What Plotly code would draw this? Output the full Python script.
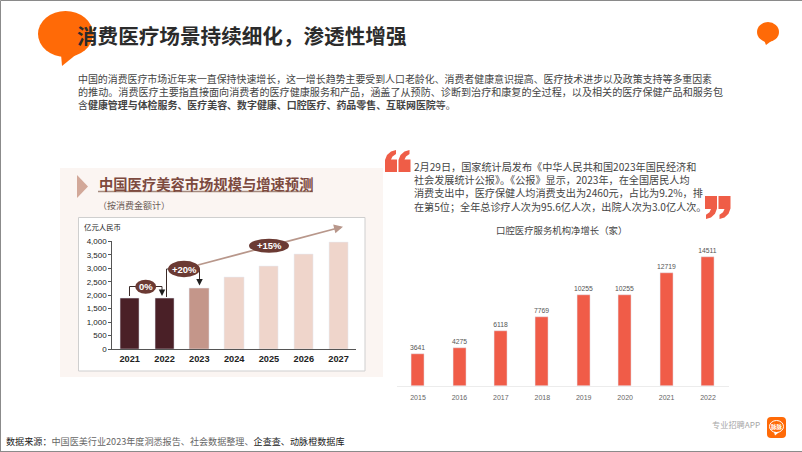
import plotly.graph_objects as go

# ---- data ----
beauty_years = ["2021", "2022", "2023", "2024", "2025", "2026", "2027"]
beauty_values = [1880, 1880, 2255, 2660, 3085, 3520, 3950]
beauty_colors = ["#4a2027", "#4a2027", "#c4968a", "#efd5cb", "#efd5cb", "#efd5cb", "#efd5cb"]
beauty_ticks = [0, 500, 1000, 1500, 2000, 2500, 3000, 3500, 4000]

dental_years = ["2015", "2016", "2017", "2018", "2019", "2020", "2021", "2022"]
dental_values = [3641, 4275, 6118, 7769, 10255, 10255, 12719, 14511]


def cjk(s):
    """Use full-width CJK punctuation, as the reference does."""
    return (s.replace(",", "\uff0c").replace(";", "\uff1b").replace(":", "\uff1a")
            .replace("(", "\uff08").replace(")", "\uff09"))


title_text = cjk("消费医疗场景持续细化,渗透性增强")
body_lines = [
    '<span style="font-size:9.92px">' + cjk("中国的消费医疗市场近年来一直保持快速增长,这一增长趋势主要受到人口老龄化、消费者健康意识提高、医疗技术进步以及政策支持等多重因素") + "</span>",
    '<span style="font-size:10.09px">' + cjk("的推动。消费医疗主要指直接面向消费者的医疗健康服务和产品,涵盖了从预防、诊断到治疗和康复的全过程,以及相关的医疗保健产品和服务包") + "</span>",
    "含<b>健康管理与体检服务、医疗美容、数字健康、口腔医疗、药品零售、互联网医院</b>等。",
]
quote_lines = [
    cjk("2月29日,国家统计局发布《中华人民共和国2023年国民经济和"),
    cjk("社会发展统计公报》。《公报》显示,2023年,在全国居民人均"),
    cjk("消费支出中,医疗保健人均消费支出为2460元,占比为9.2%,排"),
    cjk("在第5位;全年总诊疗人次为95.6亿人次,出院人次为3.0亿人次。"),
]

W, H = 802, 452
FONT = "Noto Sans CJK SC"
LATIN = "Liberation Sans, Noto Sans CJK SC"
fx = lambda x: x / W
fy = lambda y: 1 - y / H

fig = go.Figure()
fig.add_bar(x=beauty_years, y=beauty_values, marker_color=beauty_colors, width=0.555,
            xaxis="x", yaxis="y", hoverinfo="skip")
fig.add_bar(x=dental_years, y=dental_values, marker_color="#f05c48", width=0.314,
            text=[str(v) for v in dental_values], textposition="outside", cliponaxis=False,
            constraintext="none", textfont=dict(size=6.8, color="#555555", family=LATIN),
            xaxis="x2", yaxis="y2", hoverinfo="skip")

shapes = []


def rect(x0, y0, x1, y1, fill, line=None, lw=1):
    shapes.append(dict(type="rect", xref="paper", yref="paper", x0=fx(x0), x1=fx(x1), y0=fy(y0), y1=fy(y1),
                       fillcolor=fill, line=dict(color=line or fill, width=lw if line else 0), layer="below"))


def poly(points, fill=None, line=None, lw=1, close=True, layer="below"):
    d = "M" + " L".join(f"{fx(x):.5f},{fy(y):.5f}" for x, y in points) + (" Z" if close else "")
    shapes.append(dict(type="path", xref="paper", yref="paper", path=d,
                       fillcolor=fill if fill else "rgba(0,0,0,0)",
                       line=dict(color=line or "rgba(0,0,0,0)", width=lw if line else 0), layer=layer))


def oval(cx, cy, rx, ry, fill, layer="below", line=None, lw=0):
    shapes.append(dict(type="circle", xref="paper", yref="paper", x0=fx(cx - rx), x1=fx(cx + rx),
                       y0=fy(cy + ry), y1=fy(cy - ry), fillcolor=fill,
                       line=dict(color=line or fill, width=lw), layer=layer))


# page frame
poly([(0.5, 451.5), (0.5, 0.5), (802, 0.5)], line="#8a8a8a", lw=1, close=False)
poly([(0, 451.5), (802, 451.5)], line="#8a8a8a", lw=1, close=False)

# speech bubbles
ORANGE = "#ff6a07"
oval(65.5, 34, 27.5, 23, ORANGE)
poly([(61, 54), (62, 66), (78, 53)], fill=ORANGE)
oval(768, 32, 11, 10, ORANGE)
poly([(764, 40), (766, 45), (772, 40.5)], fill=ORANGE)

# left panel
rect(60, 168, 383, 377, "#fbf5f2")
rect(78.5, 217.5, 365, 371, "#ffffff", line="#cfcfcf", lw=1)
poly([(77, 175), (88, 186.5), (77, 198)], fill="#d2a899")
poly([(98, 191.5), (313, 191.5)], line="#a58a7e", lw=1.5, close=False)

# connector brackets and trend line
BR = "#3a2a28"
poly([(129.5, 296), (129.5, 286.5), (162, 286.5), (162, 293)], line=BR, lw=1, close=False, layer="above")
poly([(166.5, 297), (166.5, 269), (199.5, 269), (199.5, 282)], line=BR, lw=1, close=False, layer="above")
poly([(198, 265), (338, 228)], line="#b8978b", lw=1.8, close=False, layer="above")

# pills that sit on top of those lines
oval(145.7, 286.7, 10.5, 7, "#6b3a33", layer="above")
oval(184, 269, 16, 8.3, "#6b3a33", layer="above")
oval(269, 245.7, 20, 7, "#6b3a33", layer="above")

# quote marks
Q = "#ef5d47"
OPEN_MARK = [(0, 22), (0, 10), (2, 5), (6, 1.5), (11, 0), (11, 4), (7.5, 6.5), (6, 9.5), (12, 9.5), (12, 22)]


def quote_open(x, y):
    poly([(x + a, y + b) for a, b in OPEN_MARK], fill=Q)


def quote_close(x, y):
    poly([(x + 12 - a, y + 23 - b * 23 / 22) for a, b in OPEN_MARK], fill=Q)


quote_open(385, 150)
quote_open(398.5, 150)
quote_close(705, 196)
quote_close(718.5, 196)

# app icon
x0, x1, y0, y1, r = 767, 786, 417, 438, 4
icon = (f"M{fx(x0 + r)},{fy(y0)} L{fx(x1 - r)},{fy(y0)} Q{fx(x1)},{fy(y0)} {fx(x1)},{fy(y0 + r)} "
        f"L{fx(x1)},{fy(y1 - r)} Q{fx(x1)},{fy(y1)} {fx(x1 - r)},{fy(y1)} L{fx(x0 + r)},{fy(y1)} "
        f"Q{fx(x0)},{fy(y1)} {fx(x0)},{fy(y1 - r)} L{fx(x0)},{fy(y0 + r)} Q{fx(x0)},{fy(y0)} {fx(x0 + r)},{fy(y0)} Z")
shapes.append(dict(type="path", xref="paper", yref="paper", path=icon, fillcolor=ORANGE,
                   line=dict(width=0), layer="below"))
oval(776.5, 426.5, 7, 6, ORANGE, layer="above", line="#ffffff", lw=1)
poly([(774, 432), (775, 435.5), (779, 432.3)], fill="#ffffff", layer="above")

ann = []


def arrow(x0, y0, x1, y1, color, width, head=2, size=1.0):
    ann.append(dict(x=fx(x1), y=fy(y1), xref="paper", yref="paper", ax=x0 - x1, ay=y0 - y1,
                    text="", showarrow=True, arrowhead=head, arrowsize=size, arrowwidth=width, arrowcolor=color))


arrow(336, 228.5, 343, 226.7, "#b8978b", 1.8)
arrow(162, 290, 162, 296, "#1f1f1f", 1, head=2, size=1.3)
arrow(199.5, 278, 199.5, 285.5, "#1f1f1f", 1, head=2, size=1.3)


def text(x, y, s, size, color, anchor="left", family=FONT):
    ann.append(dict(text=s, x=fx(x), y=fy(y), xref="paper", yref="paper", showarrow=False, xanchor=anchor,
                    yanchor="middle", align=anchor, borderpad=0, font=dict(size=size, color=color, family=family)))


text(76, 35, f"<b>{title_text}</b>", 20.6, "#2b2b2b")
text(76.5, 91.7, "<br>".join(body_lines), 9.95, "#444444")
text(413, 186, "<br>".join(quote_lines), 10.15, "#444444")
text(98, 184, "<b>中国医疗美容市场规模与增速预测</b>", 14.3, "#7d4a3f")
text(97, 205, cjk("(按消费金额计)"), 9, "#6a5a55")
text(83.3, 227, "亿元人民币", 7.4, "#222222")
text(561.7, 230, cjk("口腔医疗服务机构净增长(家)"), 9.4, "#444444", anchor="center")
text(5, 441, cjk('数据来源:') + '<span style="color:#666666">中国医美行业2023年度洞悉报告、社会数据整理、</span>企查查、动脉橙数据库',
     9.1, "#222222")
text(711, 424, "专业招聘APP", 8.2, "#a8a8a8")
text(145.7, 286.7, "<b>0%</b>", 9.5, "#ffffff", anchor="center", family=LATIN)
text(184, 269, "<b>+20%</b>", 9.5, "#ffffff", anchor="center", family=LATIN)
text(269, 245.7, "<b>+15%</b>", 9.5, "#ffffff", anchor="center", family=LATIN)
text(776.5, 426.5, "<b>脉脉</b>", 5.5, "#ffffff", anchor="center")

# axes: pixel frames converted to domains
L_X0, L_X1, L_Y0, L_Y1 = 112.3, 356, 349, 241.3
R_X0, R_X1, R_Y0, R_Y1 = 397.3, 728.7, 386, 250
px_per_unit = (386 - 256.7) / 14511

fig.update_layout(
    width=W, height=H, margin=dict(l=0, r=0, t=0, b=0), paper_bgcolor="#ffffff", plot_bgcolor="rgba(0,0,0,0)",
    showlegend=False, shapes=shapes, annotations=ann, bargap=0,
    xaxis=dict(domain=[fx(L_X0), fx(L_X1)], type="category", anchor="y", showgrid=False, showline=True,
               linecolor="#555555", linewidth=1, ticks="", ticklabelstandoff=1,
               tickfont=dict(size=9.2, color="#222222", family="Liberation Sans"),
               tickprefix="<b>", ticksuffix="</b>", automargin=False),
    yaxis=dict(domain=[fy(L_Y0), fy(L_Y1)], range=[0, 4000], anchor="x", tickvals=beauty_ticks, tickformat=",",
               showgrid=False, zeroline=False, showline=True, linecolor="#555555", linewidth=1, ticks="outside",
               ticklen=3, tickcolor="#555555", tickfont=dict(size=8, color="#222222", family="Liberation Sans"),
               automargin=False),
    xaxis2=dict(domain=[fx(R_X0), fx(R_X1)], type="category", anchor="y2", showgrid=False, showline=True,
                linecolor="#ececec", linewidth=1, ticks="", ticklabelstandoff=5,
                tickfont=dict(size=7, color="#666666", family=LATIN), automargin=False),
    yaxis2=dict(domain=[fy(R_Y0), fy(R_Y1)], range=[0, (R_Y0 - R_Y1) / px_per_unit], anchor="x2", visible=False,
                automargin=False),
)

fig.write_html("out.html", config=dict(displayModeBar=False),
               post_script="document.body.style.margin='0';document.documentElement.style.overflow='hidden';")
